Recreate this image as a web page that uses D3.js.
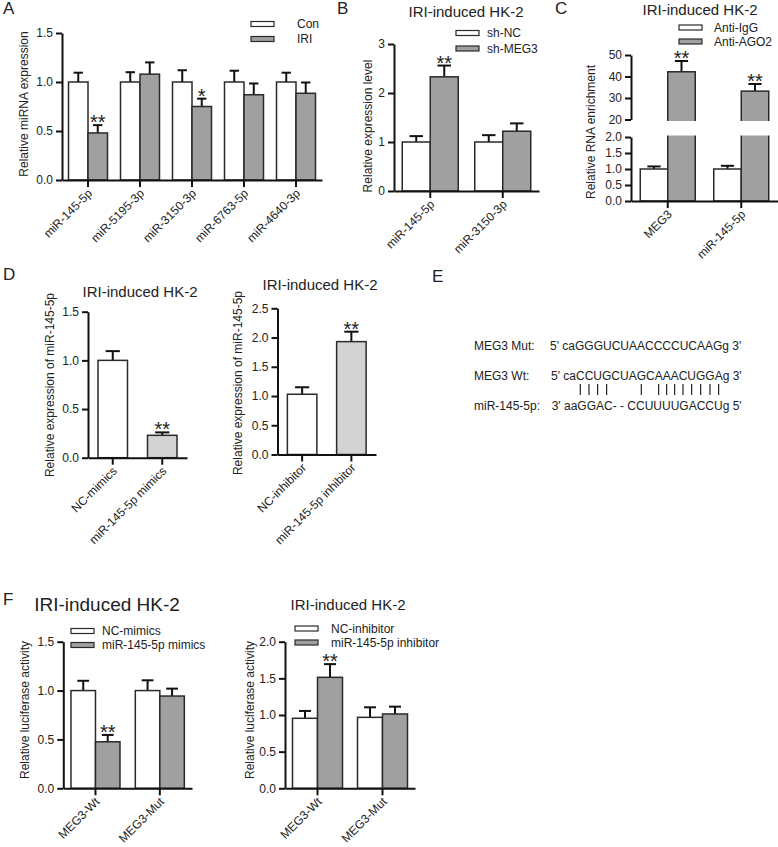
<!DOCTYPE html>
<html><head><meta charset="utf-8">
<script src="https://cdn.jsdelivr.net/npm/d3@7/dist/d3.min.js"></script>
<style>body{margin:0;background:#fff}svg{display:block}</style>
</head><body>
<script>
// ---------- DATA ----------
// Panel A
const catsA = ["miR-145-5p","miR-5195-3p","miR-3150-3p","miR-6763-5p","miR-4640-3p"];
const conA = [1.0,1.0,1.0,1.0,1.0];
const conErrA = [0.095,0.10,0.12,0.115,0.095];
const iriA = [0.48,1.08,0.75,0.87,0.885];
const iriErrA = [0.08,0.12,0.08,0.115,0.11];
const sigA = ["**","","*","",""];
const ticksA = [0,0.5,1.0,1.5];
// Panel B
const catsB = ["miR-145-5p","miR-3150-3p"];
const shNC = [1.0,1.0];
const shNCErr = [0.12,0.14];
const shMEG3 = [2.33,1.22];
const shMEG3Err = [0.23,0.16];
const sigB = ["**",""];
const ticksB = [0,1,2,3];
// Panel C
const catsC = ["MEG3","miR-145-5p"];
const antiIgG = [1.0,1.0];
const antiIgGErr = [0.08,0.10];
const antiAGO2 = [42.2,33.2];
const antiAGO2Err = [5.0,3.3];
const sigC = ["**","**"];
const ticksCUpper = [20,30,40,50];
const ticksCLower = [0,0.5,1.0,1.5,2.0];
// Panel D
const catsD1 = ["NC-mimics","miR-145-5p mimics"];
const valsD1 = [1.0,0.23];
const errD1 = [0.095,0.03];
const sigD1 = ["","**"];
const ticksD1 = [0,0.5,1.0,1.5];
const catsD2 = ["NC-inhibitor","miR-145-5p inhibitor"];
const valsD2 = [1.03,1.93];
const errD2 = [0.12,0.17];
const sigD2 = ["","**"];
const ticksD2 = [0,0.5,1.0,1.5,2.0,2.5];
// Panel E
const seqLabels = ["MEG3 Mut:","MEG3 Wt:","miR-145-5p:"];
const seqs = ["5' caGGGUCUAACCCCUCAAGg 3'","5' caCCUGCUAGCAAACUGGAg 3'","3' aaGGAC- - CCUUUUGACCUg 5'"];
const pairIdx = [5,6,7,8,12,14,15,16,17,18,19,20,21];
// Panel F
const catsF = ["MEG3-Wt","MEG3-Mut"];
const ncMimics = [1.0,1.0];
const ncMimicsErr = [0.10,0.105];
const mimics = [0.476,0.944];
const mimicsErr = [0.07,0.076];
const sigF1 = ["**",""];
const ticksF1 = [0,0.5,1.0,1.5];
const ncInh = [0.955,0.968];
const ncInhErr = [0.10,0.137];
const inh = [1.514,1.014];
const inhErr = [0.18,0.10];
const sigF2 = ["**",""];
const ticksF2 = [0,0.5,1.0,1.5,2.0];

// ---------- STYLE ----------
const FONT = "'Liberation Sans', Arial, Helvetica, sans-serif";
const WHITE = "#ffffff", GRAY = "#a0a0a0", LIGHT = "#d3d3d3";
const BAR_STROKE = "#2a2a2a", AX = "#111", TXT = "#222";

const svg = d3.select("body").append("svg").attr("width",778).attr("height",847)
  .style("font-family", FONT);

function txt(g, x, y, s, size, anchor, rot) {
  const t = g.append("text").attr("x", x).attr("y", y).text(s)
    .attr("font-size", size).attr("fill", TXT).attr("text-anchor", anchor || "start");
  if (rot) t.attr("transform", `rotate(${rot},${x},${y})`);
  return t;
}

function styleAxis(ax) {
  ax.select(".domain").attr("stroke", AX).attr("stroke-width", 2);
  ax.selectAll(".tick line").attr("stroke", AX).attr("stroke-width", 2);
  ax.selectAll(".tick text").attr("fill", TXT).attr("font-size", 12).attr("font-family", FONT);
}

function yAxis(g, y, x0, ticks, fmt) {
  const ax = g.append("g").attr("transform", `translate(${x0},0)`)
    .call(d3.axisLeft(y).tickValues(ticks).tickFormat(fmt).tickSize(6).tickSizeOuter(0).tickPadding(3));
  styleAxis(ax);
  return ax;
}

function xAxis(g, x, yBase) {
  const ax = g.append("g").attr("transform", `translate(0,${yBase})`)
    .call(d3.axisBottom(x).tickSize(7).tickSizeOuter(0).tickFormat(""));
  styleAxis(ax);
  x.domain().forEach(c => {
    const cx = x(c) + x.bandwidth()/2;
    const px = cx + 5, py = yBase + 14;
    g.append("text").attr("transform", `translate(${px},${py}) rotate(-45)`)
      .attr("text-anchor","end").attr("font-size",12).attr("fill",TXT).text(c);
  });
}

function errBar(g, cx, yTop, yErr, cw) {
  g.append("line").attr("x1",cx).attr("x2",cx).attr("y1",yTop).attr("y2",yErr)
    .attr("stroke",AX).attr("stroke-width",2);
  g.append("line").attr("x1",cx-cw/2).attr("x2",cx+cw/2).attr("y1",yErr).attr("y2",yErr)
    .attr("stroke",AX).attr("stroke-width",2);
}

function sig(g, cx, yErr, s) {
  if (!s) return;
  g.append("text").attr("x",cx).attr("y",yErr+4).attr("text-anchor","middle")
    .attr("font-size",20).attr("fill",TXT).text(s);
}

// generic grouped bar panel
function barPanel(o) {
  const g = svg.append("g");
  const y = d3.scaleLinear().domain(o.domain).range([o.yBot, o.yTop]);
  const x = d3.scaleBand().domain(o.cats).range([o.x0, o.x1]);
  const n = o.series.length;
  o.series.forEach((s, si) => {
    o.cats.forEach((c, i) => {
      const cx = x(c) + x.bandwidth()/2;
      const left = cx - n*o.bw/2 + si*o.bw;
      const fill = typeof s.fill === "function" ? s.fill(i) : s.fill;
      errBar(g, left + o.bw/2, y(s.vals[i]), y(s.vals[i] + s.errs[i]), o.bw*0.48);
      g.append("rect").attr("x", left).attr("y", y(s.vals[i]))
        .attr("width", o.bw).attr("height", y(0) - y(s.vals[i]))
        .attr("fill", fill).attr("stroke", BAR_STROKE).attr("stroke-width", 1.5);
      if (s.sig) sig(g, left + o.bw/2, y(s.vals[i] + s.errs[i]), s.sig[i]);
    });
  });
  yAxis(g, y, o.x0, o.ticks, o.fmt);
  xAxis(g, x, o.yBot);
  txt(g, o.ytX, o.ytY, o.yTitle, 12, "middle", -90).attr("dy", "0.35em");
  if (o.title) txt(g, o.title.x, o.title.y, o.title.text, o.title.size, "middle");
  if (o.legend) {
    o.legend.items.forEach((it, k) => {
      const ly = o.legend.ys[k];
      g.append("rect").attr("x", o.legend.x).attr("y", ly - 2.5).attr("width", 23).attr("height", 5)
        .attr("fill", it.fill).attr("stroke", BAR_STROKE).attr("stroke-width", 1.2);
      txt(g, o.legend.tx, ly, it.label, 12, "start").attr("dy", "0.35em");
    });
  }
  return g;
}

// ---------- Panel letters ----------
[["A",3,14],["B",337,14],["C",555,14],["D",3,280],["E",432,282],["F",3,605]].forEach(([l,x,y]) =>
  txt(svg, x, y, l, 17, "start"));

// ---------- Panel A ----------
barPanel({
  cats: catsA, domain: [0,1.5], yBot: 180, yTop: 33, x0: 62, x1: 322, bw: 19.5,
  ticks: ticksA, fmt: d3.format(".1f"),
  series: [
    {vals: conA, errs: conErrA, fill: WHITE},
    {vals: iriA, errs: iriErrA, fill: GRAY, sig: sigA}
  ],
  ytX: 24, ytY: 104, yTitle: "Relative miRNA expression",
  legend: {x: 251, tx: 297, ys: [24, 39], items: [{fill: WHITE, label: "Con"}, {fill: GRAY, label: "IRI"}]}
});

// ---------- Panel B ----------
barPanel({
  cats: catsB, domain: [0,3], yBot: 191, yTop: 44, x0: 394, x1: 539, bw: 28,
  ticks: ticksB, fmt: d3.format("d"),
  series: [
    {vals: shNC, errs: shNCErr, fill: WHITE},
    {vals: shMEG3, errs: shMEG3Err, fill: GRAY, sig: sigB}
  ],
  ytX: 368, ytY: 126, yTitle: "Relative expression level",
  title: {x: 466, y: 17, text: "IRI-induced HK-2", size: 15},
  legend: {x: 456, tx: 487, ys: [33, 48.5], items: [{fill: WHITE, label: "sh-NC"}, {fill: GRAY, label: "sh-MEG3"}]}
});

// ---------- Panel C (broken axis) ----------
(function(){
  const g = svg.append("g");
  const x0 = 631, x1 = 778, bw = 27.5;
  const yU = d3.scaleLinear().domain([20,50]).range([119.5,55]);
  const yL = d3.scaleLinear().domain([0,2]).range([201,137]);
  const x = d3.scaleBand().domain(catsC).range([x0, x1]);
  const series = [
    {vals: antiIgG, errs: antiIgGErr, fill: WHITE},
    {vals: antiAGO2, errs: antiAGO2Err, fill: GRAY, sig: sigC}
  ];
  const yC = v => v <= 2 ? yL(v) : yU(v);
  series.forEach((s, si) => {
    catsC.forEach((c, i) => {
      const cx = x(c) + x.bandwidth()/2;
      const left = cx - bw + si*bw;
      const v = s.vals[i];
      errBar(g, left + bw/2, yC(v), yC(v + s.errs[i]), bw*0.48);
      g.append("rect").attr("x", left).attr("y", yC(v)).attr("width", bw)
        .attr("height", yL(0) - yC(v)).attr("fill", s.fill).attr("stroke", BAR_STROKE).attr("stroke-width", 1.5);
      if (s.sig) sig(g, left + bw/2, yC(v + s.errs[i]), s.sig[i]);
    });
  });
  g.append("rect").attr("x", x0 - 2).attr("y", yU(20) + 1.5).attr("width", x1 - x0 + 2)
    .attr("height", yL(2) - yU(20) - 3).attr("fill", "#fff");
  yAxis(g, yU, x0, ticksCUpper, d3.format("d"));
  yAxis(g, yL, x0, ticksCLower, d3.format(".1f"));
  xAxis(g, x, yL(0));
  txt(g, 591, 132, "Relative RNA enrichment", 12, "middle", -90).attr("dy","0.35em");
  txt(g, 700, 15, "IRI-induced HK-2", 15, "middle");
  [{fill: WHITE, label: "Anti-IgG"}, {fill: GRAY, label: "Anti-AGO2"}].forEach((it, k) => {
    const ly = [27.5, 41.5][k];
    g.append("rect").attr("x", 679).attr("y", ly - 2.5).attr("width", 23).attr("height", 5)
      .attr("fill", it.fill).attr("stroke", BAR_STROKE).attr("stroke-width", 1.2);
    txt(g, 714, ly, it.label, 12, "start").attr("dy","0.35em");
  });
})();

// ---------- Panel D ----------
barPanel({
  cats: catsD1, domain: [0,1.5], yBot: 457.7, yTop: 311.7, x0: 88, x1: 187, bw: 29.5,
  ticks: ticksD1, fmt: d3.format(".1f"),
  series: [{vals: valsD1, errs: errD1, fill: i => i === 0 ? WHITE : LIGHT, sig: sigD1}],
  ytX: 50, ytY: 385, yTitle: "Relative expression of miR-145-5p",
  title: {x: 140, y: 297, text: "IRI-induced HK-2", size: 15}
});
barPanel({
  cats: catsD2, domain: [0,2.5], yBot: 454.5, yTop: 308.3, x0: 277.5, x1: 376, bw: 29.5,
  ticks: ticksD2, fmt: d3.format(".1f"),
  series: [{vals: valsD2, errs: errD2, fill: i => i === 0 ? WHITE : LIGHT, sig: sigD2}],
  ytX: 238, ytY: 383, yTitle: "Relative expression of miR-145-5p",
  title: {x: 320, y: 290, text: "IRI-induced HK-2", size: 15}
});

// ---------- Panel E ----------
(function(){
  const g = svg.append("g");
  const rowY = [349.5, 379.5, 409.5];
  const seqX = [550, 551, 551.7];
  seqLabels.forEach((l, i) => txt(g, 474, rowY[i], l, 12, "start"));
  const nodes = seqs.map((s, i) => txt(g, seqX[i], rowY[i], s, 12, "start"));
  const wt = nodes[1].node();
  pairIdx.forEach(k => {
    const p = wt.getStartPositionOfChar(k);
    const w = wt.getExtentOfChar(k).width;
    const px = p.x + w/2;
    g.append("line").attr("x1",px).attr("x2",px).attr("y1",384).attr("y2",395)
      .attr("stroke",TXT).attr("stroke-width",1.2);
  });
})();

// ---------- Panel F ----------
barPanel({
  cats: catsF, domain: [0,1.5], yBot: 788.3, yTop: 641.7, x0: 63.3, x1: 192, bw: 24.5,
  ticks: ticksF1, fmt: d3.format(".1f"),
  series: [
    {vals: ncMimics, errs: ncMimicsErr, fill: WHITE},
    {vals: mimics, errs: mimicsErr, fill: GRAY, sig: sigF1}
  ],
  ytX: 25, ytY: 710, yTitle: "Relative luciferase activity",
  title: {x: 107, y: 611, text: "IRI-induced HK-2", size: 19},
  legend: {x: 71, tx: 102, ys: [631, 645], items: [{fill: WHITE, label: "NC-mimics"}, {fill: GRAY, label: "miR-145-5p mimics"}]}
});
barPanel({
  cats: catsF, domain: [0,2.0], yBot: 788.3, yTop: 641.7, x0: 285, x1: 415, bw: 25,
  ticks: ticksF2, fmt: d3.format(".1f"),
  series: [
    {vals: ncInh, errs: ncInhErr, fill: WHITE},
    {vals: inh, errs: inhErr, fill: GRAY, sig: sigF2}
  ],
  ytX: 250, ytY: 710, yTitle: "Relative luciferase activity",
  title: {x: 348, y: 610, text: "IRI-induced HK-2", size: 15},
  legend: {x: 295, tx: 331, ys: [628.5, 642.5], items: [{fill: WHITE, label: "NC-inhibitor"}, {fill: GRAY, label: "miR-145-5p inhibitor"}]}
});
</script>
</body></html>
